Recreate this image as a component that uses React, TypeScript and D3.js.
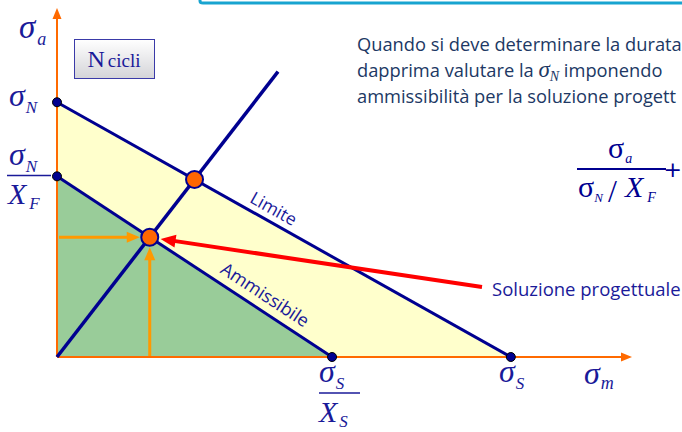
import React from "react";
import * as d3 from "d3";

// Haigh diagram values (sigma_S = sigma_N = 100 as reference units)
const sigmaS = 100;
const XS = 1.65;
const sigmaN = 100;
const XF = 1.41;
const loadSlope = 2.3; // sigma_a / sigma_m of the working point
const loadEnd = 48.7; // sigma_m where the drawn load line stops
const xMax = 126.7;
const yMax = 137;

const paragraph = [
  "Quando si deve determinare la durata",
  "dapprima valutare la ",
  "ammissibilità per la soluzione progett",
];

const NAVY = "#000090";
const LABEL = "#1a1a99";
const TEXT = "#203864";
const SERIF = "'Liberation Serif', 'DejaVu Serif', serif";
const SANS = "'Open Sans', 'Noto Sans', sans-serif";

const W = 682;
const H = 432;

const App = () => {
  const x = d3.scaleLinear().domain([0, xMax]).range([57, 632]);
  const y = d3.scaleLinear().domain([0, yMax]).range([357, 8]);

  const admS = sigmaS / XS;
  const admN = sigmaN / XF;

  // intersections of the load line with limit and admissible lines
  const mLim = 1 / (loadSlope / sigmaN + 1 / sigmaS);
  const mAdm = 1 / (loadSlope / admN + 1 / admS);
  const pLim: [number, number] = [x(mLim), y(loadSlope * mLim)];
  const pAdm: [number, number] = [x(mAdm), y(loadSlope * mAdm)];

  const line = d3.line<[number, number]>().x((d) => x(d[0])).y((d) => y(d[1]));
  const area = (pts: [number, number][]) => line(pts) + "Z";

  const angle = (a: number, b: number) =>
    (Math.atan2(y(0) - y(a), x(b) - x(0)) * 180) / Math.PI;
  const limAngle = angle(sigmaN, sigmaS);
  const admAngle = angle(admN, admS);
  const limLabelM = 46.3;
  const admLabelM = 44;

  // red arrow start
  const redStart: [number, number] = [482, 287];
  const dx = redStart[0] - pAdm[0];
  const dy = redStart[1] - pAdm[1];
  const len = Math.hypot(dx, dy);
  const redTip: [number, number] = [pAdm[0] + (dx / len) * 11, pAdm[1] + (dy / len) * 11];

  const head = (tip: [number, number], dir: [number, number], l: number, w: number) => {
    const n = Math.hypot(dir[0], dir[1]);
    const ux = dir[0] / n;
    const uy = dir[1] / n;
    const bx = tip[0] - ux * l;
    const by = tip[1] - uy * l;
    return `M${tip[0]},${tip[1]}L${bx - uy * w / 2},${by + ux * w / 2}L${bx + uy * w / 2},${by - ux * w / 2}Z`;
  };

  const sig = (props: any, sub: string, subSize = 17, size = 32, italic = true, dx2 = 0, dy2 = 7, fill = LABEL) => (
    <text {...props} fontFamily={SERIF} fill={fill} fontStyle={italic ? "italic" : "normal"} fontSize={size}>
      σ
      <tspan fontSize={subSize} fontStyle="italic" dx={dx2} dy={dy2}>{sub}</tspan>
    </text>
  );

  return (
    <svg width={W} height={H} style={{ position: "absolute", left: 0, top: 0, background: "#fff" }}>
      <defs>
        <linearGradient id="boxg" x1="0" y1="0" x2="0" y2="1">
          <stop offset="0" stopColor="#ffffff" />
          <stop offset="1" stopColor="#d4d4d8" />
        </linearGradient>
      </defs>

      {/* top-right frame border */}
      <path d="M200,-4 L200,1 Q200,3 203,3 L690,3" fill="none" stroke="#18a4d0" strokeWidth={3} />

      {/* regions */}
      <path d={area([[0, 0], [0, sigmaN], [sigmaS, 0]])} fill="#ffffcc" />
      <path d={area([[0, 0], [0, admN], [admS, 0]])} fill="#99cc99" />

      {/* axes */}
      <line x1={x(0)} y1={y(0)} x2={x(0)} y2={y(yMax) + 8} stroke="#ff6a00" strokeWidth={2} />
      <path d={head([x(0), y(yMax)], [0, -1], 11, 9)} fill="#ff6a00" />
      <line x1={x(0)} y1={y(0)} x2={x(xMax) - 8} y2={y(0)} stroke="#ff6a00" strokeWidth={2} />
      <path d={head([x(xMax), y(0)], [1, 0], 11, 9)} fill="#ff6a00" />

      {/* limit and admissible lines */}
      <path d={line([[0, sigmaN], [sigmaS, 0]])!} stroke={NAVY} strokeWidth={3} fill="none" />
      <path d={line([[0, admN], [admS, 0]])!} stroke={NAVY} strokeWidth={3} fill="none" />
      {/* load line */}
      <path d={line([[0, 0], [loadEnd, loadSlope * loadEnd]])!} stroke={NAVY} strokeWidth={3.5} fill="none" />

      {/* orange projection arrows */}
      <line x1={x(0) + 2} y1={pAdm[1]} x2={pAdm[0] - 20} y2={pAdm[1]} stroke="#ff9900" strokeWidth={3} />
      <path d={head([pAdm[0] - 10, pAdm[1]], [1, 0], 13, 11)} fill="#ff9900" />
      <line x1={pAdm[0]} y1={y(0) - 1} x2={pAdm[0]} y2={pAdm[1] + 20} stroke="#ff9900" strokeWidth={3} />
      <path d={head([pAdm[0], pAdm[1] + 10], [0, -1], 13, 11)} fill="#ff9900" />

      {/* red arrow */}
      <line x1={redStart[0]} y1={redStart[1]} x2={redTip[0] + (dx / len) * 10} y2={redTip[1] + (dy / len) * 10} stroke="#ff0000" strokeWidth={4} />
      <path d={head(redTip, [-dx, -dy], 15, 13)} fill="#ff0000" />

      {/* end points */}
      {[[0, sigmaN], [0, admN], [admS, 0], [sigmaS, 0]].map((p, i) => (
        <circle key={i} cx={x(p[0])} cy={y(p[1])} r={4.5} fill={NAVY} stroke="#000" strokeWidth={1} />
      ))}
      <circle cx={pLim[0]} cy={pLim[1]} r={8.5} fill="#ff6600" stroke={NAVY} strokeWidth={2} />
      <circle cx={pAdm[0]} cy={pAdm[1]} r={8.5} fill="#ff6600" stroke={NAVY} strokeWidth={2} />

      {/* line labels */}
      <text
        transform={`translate(${x(limLabelM)},${y(sigmaN * (1 - limLabelM / sigmaS))}) rotate(${limAngle})`}
        textAnchor="middle" dy={-7} fontFamily={SANS} fontSize={17.5} fill={LABEL}
      >Limite</text>
      <text
        transform={`translate(${x(admLabelM)},${y(admN * (1 - admLabelM / admS))}) rotate(${admAngle})`}
        textAnchor="middle" dy={-9} fontFamily={SANS} fontSize={18} fill={LABEL}
      >Ammissibile</text>

      <text x={492} y={296} fontFamily={SANS} fontSize={18.5} fill={LABEL}>Soluzione progettuale</text>

      {/* N cicli box */}
      <rect x={74.5} y={39.5} width={80} height={39} fill="url(#boxg)" stroke="#3a3aa8" strokeWidth={1} />
      <text x={114} y={67} textAnchor="middle" fontFamily={SERIF} fill={LABEL}>
        <tspan fontSize={24}>N</tspan>
        <tspan fontSize={19} dx={3}>cicli</tspan>
      </text>

      {/* axis labels */}
      {sig({ x: 19, y: 38 }, "a", 18, 33, true, 2, 7)}
      {sig({ x: 9, y: 106 }, "N", 17, 32, true, 1, 7)}
      {sig({ x: 9, y: 165 }, "N", 17, 32, true, 1, 7)}
      <line x1={7} y1={175.5} x2={51} y2={175.5} stroke={LABEL} strokeWidth={1.3} />
      <text x={8} y={204} fontFamily={SERIF} fontStyle="italic" fontSize={30} fill={LABEL}>
        X<tspan fontSize={17} dx={3} dy={5}>F</tspan>
      </text>

      {sig({ x: 319, y: 382 }, "S", 17, 32, true, 1, 7)}
      <line x1={319} y1={393} x2={360} y2={393} stroke={LABEL} strokeWidth={1.3} />
      <text x={319} y={422} fontFamily={SERIF} fontStyle="italic" fontSize={30} fill={LABEL}>
        X<tspan fontSize={17} dx={2} dy={5}>S</tspan>
      </text>
      {sig({ x: 499, y: 382 }, "S", 17, 32, true, 1, 7)}
      {sig({ x: 584, y: 384 }, "m", 18, 32, true, 1, 5)}

      {/* paragraph */}
      <text fontFamily={SANS} fontSize={18.3} fill={TEXT}>
        <tspan x={357} y={51}>{paragraph[0]}</tspan>
        <tspan x={357} y={77}>
          {paragraph[1]}
          <tspan fontFamily={SERIF} fontStyle="italic" fontSize={23}>σ</tspan>
          <tspan fontFamily={SERIF} fontStyle="italic" fontSize={14} dy={4}>N</tspan>
          <tspan dy={-4}>{"  imponendo"}</tspan>
        </tspan>
        <tspan x={357} y={103}>{paragraph[2]}</tspan>
      </text>

      {/* formula */}
      {sig({ x: 608, y: 158 }, "a", 14, 30, false, 1, 5, NAVY)}
      <line x1={577} y1={169} x2={666} y2={169} stroke={NAVY} strokeWidth={2} />
      {sig({ x: 578, y: 197 }, "N", 13, 30, false, 0, 5, NAVY)}
      <text x={608} y={202} fontFamily={SERIF} fontSize={32} fill={NAVY}>/</text>
      <text x={625} y={197} fontFamily={SERIF} fontStyle="italic" fontSize={30} fill={NAVY}>
        X<tspan fontSize={14} dx={4} dy={5}>F</tspan>
      </text>
      <text x={682} y={177} textAnchor="end" fontFamily="'DejaVu Sans', sans-serif" fontSize={22} fill={NAVY}>+</text>
    </svg>
  );
};

export default App;
